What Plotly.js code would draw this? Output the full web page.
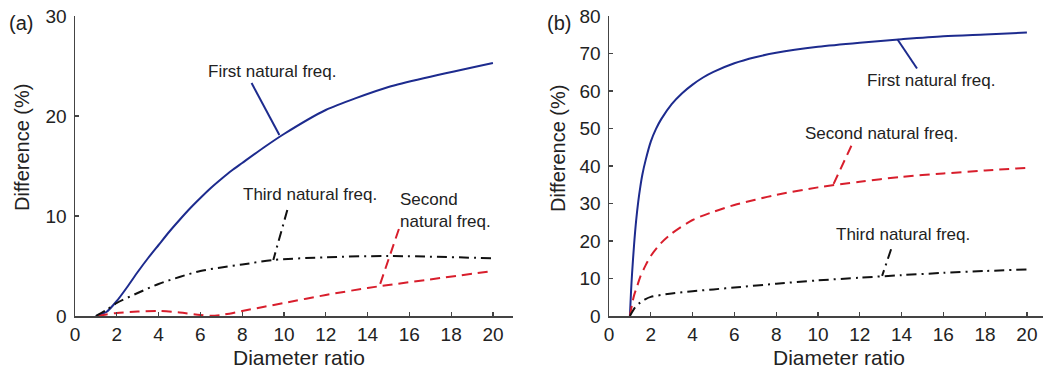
<!DOCTYPE html>
<html>
<head>
<meta charset="utf-8">
<script src="https://cdn.plot.ly/plotly-3.0.1.min.js"></script>
<style>
  html, body { margin: 0; padding: 0; background: #fff; }
  #chart { width: 1043px; height: 368px; }
</style>
</head>
<body>
<div id="chart"></div>
<script>
// Panel (a): difference in natural frequencies vs diameter ratio
const aFirstX  = [1, 1.5, 2, 2.5, 3, 3.5, 4, 4.5, 5, 5.5, 6, 6.5, 7, 7.5, 8, 9, 10, 12, 15, 20];
const aFirstY  = [0, 0.4, 1.5, 2.9, 4.4, 5.8, 7.1, 8.4, 9.6, 10.75, 11.8, 12.8, 13.7, 14.55, 15.3, 16.8, 18.2, 20.6, 22.9, 25.3];
const aSecondX = [1.1, 1.5, 2, 3, 4, 5, 6, 6.5, 7, 8, 9, 10, 12, 14, 15, 20];
const aSecondY = [0, 0.15, 0.3, 0.45, 0.5, 0.35, 0.1, 0.02, 0.1, 0.5, 0.9, 1.3, 2.1, 2.8, 3.1, 4.5];
const aThirdX  = [1, 1.5, 2, 3, 4, 5, 6, 7, 8, 9.5, 12, 15, 20];
const aThirdY  = [0, 0.6, 1.3, 2.3, 3.2, 3.9, 4.5, 4.85, 5.15, 5.6, 5.87, 6.0, 5.77];

// Panel (b)
const bFirstX  = [1, 1.05, 1.1, 1.2, 1.3, 1.4, 1.5, 1.6, 1.75, 2, 2.25, 2.5, 3, 3.5, 4, 4.5, 5, 6, 7, 8, 10, 12, 14, 16, 18, 20];
const bFirstY  = [0, 6, 11, 19, 25.5, 30.5, 34.5, 37.8, 41.5, 46.5, 49.9, 52.5, 56.5, 59.4, 61.7, 63.6, 65.1, 67.4, 69.0, 70.2, 71.8, 72.9, 73.8, 74.6, 75.1, 75.6];
const bSecondX = [1, 1.1, 1.2, 1.35, 1.5, 1.75, 2, 2.5, 3, 4, 5, 6, 7, 8, 10, 12, 14, 16, 18, 20];
const bSecondY = [0, 3, 5.5, 8, 10.5, 13.5, 16, 19.5, 22, 25.6, 27.8, 29.6, 31, 32.3, 34.3, 35.8, 37.1, 38, 38.8, 39.5];
const bThirdX  = [1, 1.25, 1.5, 1.75, 2, 3, 4, 5, 6, 8, 10, 12, 14, 16, 18, 20];
const bThirdY  = [0, 2.3, 3.6, 4.5, 5.1, 6.0, 6.6, 7.1, 7.6, 8.6, 9.5, 10.2, 10.9, 11.5, 12.0, 12.4];

// Label pointer lines [x0, x1], [y0, y1]
const aFirstPtrX = [8.45, 9.78],   aFirstPtrY = [23.3, 18.1];
const aThirdPtrX = [10.16, 9.49],  aThirdPtrY = [10.6, 5.6];
const aSecondPtrX = [15.5, 14.56], aSecondPtrY = [8.7, 2.93];
const bFirstPtrX = [13.8, 14.74],  bFirstPtrY = [73.8, 66.0];
const bSecondPtrX = [11.6, 10.72], bSecondPtrY = [45.4, 34.9];
const bThirdPtrX = [13.5, 13.07],  bThirdPtrY = [17.8, 10.7];

const seriesNames = ['First natural freq.', 'Second natural freq.', 'Third natural freq.'];
const xTicks = [0, 2, 4, 6, 8, 10, 12, 14, 16, 18, 20];
const aYTicks = [0, 10, 20, 30];
const bYTicks = [0, 10, 20, 30, 40, 50, 60, 70, 80];

const BLUE = '#1d2b8e', RED = '#d81e2c', BLACK = '#111111';
const styles = [
  { color: BLUE, width: 2, dash: 'solid' },
  { color: RED, width: 2, dash: '10px,6px' },
  { color: BLACK, width: 2, dash: '10px,5px,2px,5px' }
];

function line(x, y, s, xa, ya, name, smooth) {
  const ln = Object.assign({}, s);
  if (smooth) { ln.shape = 'spline'; ln.smoothing = smooth; }
  return { x: x, y: y, type: 'scatter', mode: 'lines', name: name,
           line: ln, xaxis: xa, yaxis: ya,
           hoverinfo: 'skip', showlegend: false };
}

const traces = [
  line(aFirstX, aFirstY, styles[0], 'x', 'y', seriesNames[0], 0.6),
  line(aSecondX, aSecondY, styles[1], 'x', 'y', seriesNames[1], 0.8),
  line(aThirdX, aThirdY, styles[2], 'x', 'y', seriesNames[2], 0.8),
  line(aFirstPtrX, aFirstPtrY, styles[0], 'x', 'y', ''),
  line(aSecondPtrX, aSecondPtrY, styles[1], 'x', 'y', ''),
  line(aThirdPtrX, aThirdPtrY, styles[2], 'x', 'y', ''),
  line(bFirstX, bFirstY, styles[0], 'x2', 'y2', seriesNames[0], 0.8),
  line(bSecondX, bSecondY, styles[1], 'x2', 'y2', seriesNames[1], 0.8),
  line(bThirdX, bThirdY, styles[2], 'x2', 'y2', seriesNames[2], 0.8),
  line(bFirstPtrX, bFirstPtrY, styles[0], 'x2', 'y2', ''),
  line(bSecondPtrX, bSecondPtrY, styles[1], 'x2', 'y2', ''),
  line(bThirdPtrX, bThirdPtrY, styles[2], 'x2', 'y2', '')
];

const W = 1043, H = 368;
const FONT = 'Liberation Sans, Arial, Helvetica, sans-serif';
const AXC = '#444444';

function xAxis(domain, maxX, anchor) {
  return {
    domain: domain, range: [0, maxX], anchor: anchor,
    tickmode: 'array', tickvals: xTicks, ticktext: xTicks.map(String),
    ticks: 'inside', ticklen: 4, tickwidth: 1.2, tickcolor: AXC,
    showline: true, linecolor: AXC, linewidth: 1.5,
    showgrid: false, zeroline: false,
    tickfont: { family: FONT, size: 19, color: '#222' },
    ticklabelstandoff: 1
  };
}
function yAxis(maxY, ticks, anchor) {
  return {
    domain: [1 - 316 / H, 1 - 16 / H], range: [0, maxY], anchor: anchor,
    tickmode: 'array', tickvals: ticks, ticktext: ticks.map(String),
    ticks: 'inside', ticklen: 4, tickwidth: 1.2, tickcolor: AXC,
    showline: true, linecolor: AXC, linewidth: 1.5,
    showgrid: false, zeroline: false,
    tickfont: { family: FONT, size: 19, color: '#222' },
    ticklabelstandoff: 3
  };
}

function txt(text, x, y, xref, yref, size, opts) {
  return Object.assign({ text: text, x: x, y: y, xref: xref, yref: yref,
    showarrow: false, font: { family: FONT, size: size, color: '#222' },
    xanchor: 'center', yanchor: 'middle' }, opts || {});
}

const LBL = 17;
const annotations = [
  txt('(a)', 21 / W, 1 - 23 / H, 'paper', 'paper', 20),
  txt('(b)', 558.5 / W, 1 - 23 / H, 'paper', 'paper', 20),
  txt('Difference (%)', 22 / W, 1 - 148 / H, 'paper', 'paper', 20, { textangle: -90 }),
  txt('Difference (%)', 558 / W, 1 - 149 / H, 'paper', 'paper', 20, { textangle: -90 }),
  txt('Diameter ratio', 299 / W, 1 - 357 / H, 'paper', 'paper', 21),
  txt('Diameter ratio', 839 / W, 1 - 357 / H, 'paper', 'paper', 21),
  txt(seriesNames[0], 9.47, 24.4, 'x', 'y', LBL),
  txt(seriesNames[2], 11.24, 12.2, 'x', 'y', LBL),
  txt('Second<br>natural freq.', 15.47, 10.55, 'x', 'y', LBL, { xanchor: 'left', align: 'left' }),
  txt(seriesNames[0], 15.44, 62.7, 'x2', 'y2', LBL),
  txt(seriesNames[1], 13.05, 48.7, 'x2', 'y2', LBL),
  txt(seriesNames[2], 14.09, 21.8, 'x2', 'y2', LBL)
];

const layout = {
  width: W, height: H,
  margin: { l: 0, r: 0, t: 0, b: 0 },
  paper_bgcolor: '#fff', plot_bgcolor: '#fff',
  showlegend: false,
  xaxis: xAxis([75 / W, 513 / W], 20.96, 'y'),
  yaxis: yAxis(30, aYTicks, 'x'),
  xaxis2: xAxis([609 / W, 1], 20.77, 'y2'),
  yaxis2: yAxis(80, bYTicks, 'x2'),
  annotations: annotations,
  font: { family: FONT }
};

Plotly.newPlot('chart', traces, layout, { staticPlot: true, displayModeBar: false });
</script>
</body>
</html>
